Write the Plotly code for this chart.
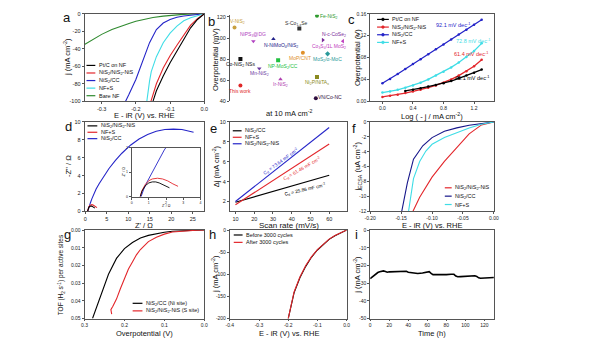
import plotly.graph_objects as go

W, H = 600, 353
FONT = "Liberation Sans, Arial, sans-serif"
AX = "#555555"

BLACK = "#000000"
RED = "#e3262b"
BLUE = "#2424c8"
NAVY = "#16168a"
CYAN = "#3fdde6"
GREEN = "#2f8a2f"

# ---------------- data ----------------
# (a) polarization curves
a_pt_E = [0.0, -0.02, -0.04, -0.06, -0.08, -0.10, -0.12, -0.14, -0.150]
a_pt_j = [0, -6.5, -16, -29, -42, -56, -71, -88, -100]
a_ni_E = [0.0, -0.02, -0.04, -0.06, -0.08, -0.10, -0.12, -0.14, -0.156]
a_ni_j = [0, -5.5, -13, -24, -36, -48, -62, -80, -100]
a_cc_E = [0.0, -0.03, -0.06, -0.08, -0.10, -0.12, -0.14, -0.16, -0.18, -0.20, -0.22, -0.230]
a_cc_j = [0, -1, -2.5, -4, -6.5, -10.5, -18, -33, -55, -75, -92, -100]
a_nf_E = [0.0, -0.02, -0.04, -0.06, -0.08, -0.10, -0.12, -0.14, -0.155, -0.16, -0.168]
a_nf_j = [0, -2, -4.5, -8, -14, -22, -33, -49, -66, -77, -100]
a_bare_E = [-0.35, -0.33, -0.30, -0.27, -0.25, -0.22, -0.20, -0.17, -0.15, -0.12, -0.10, -0.07, -0.05, -0.02, 0.0]
a_bare_j = [-35, -30, -23.5, -18, -15, -11, -8.5, -5.8, -4.3, -2.6, -1.7, -0.9, -0.5, -0.15, 0]
a_names = ["Pt/C on NF", "NiS<sub>2</sub>/NiS<sub>2</sub>-NiS", "NiS<sub>2</sub>/CC", "NF+S", "Bare NF"]

# (b) comparison of overpotentials at 10 mA cm-2
b_labels = ["V-NiS<sub>2</sub>", "NiPS<sub>3</sub>@DG", "N-NiMoO<sub>4</sub>/NiS<sub>2</sub>", "S-Co<sub>1-x</sub>Se",
            "Fe-NiS<sub>2</sub>", "N-c-CoSe<sub>2</sub>", "Co<sub>3</sub>S<sub>4</sub>/1L MoS<sub>2</sub>", "MoP/CNT",
            "MoS<sub>2</sub>/α-MoC", "NP-MoS<sub>2</sub>/CC", "Co-NiS<sub>2</sub> NSs", "Mn-NiS<sub>2</sub>",
            "Ir-NiS<sub>2</sub>", "Ni<sub>2</sub>P/NiTA<sub>x</sub>", "VN/Co-NC", "This work"]
b_index = [0.4, 2.0, 3.7, 5.9, 7.4, 7.9, 9.6, 6.2, 8.3, 4.1, 0.9, 2.5, 4.3, 7.4, 7.3, 0.9]
b_eta = [110, 97, 99, 109, 121, 98, 97, 86, 85, 79, 80, 71, 61, 63, 43, 55]

# (c) Tafel plots
c_x = [0.0, 0.1, 0.2, 0.3, 0.4, 0.5, 0.6, 0.7, 0.8, 0.9, 1.0, 1.1, 1.2, 1.3]
c_cc = [0.033, 0.041, 0.050, 0.059, 0.068, 0.077, 0.086, 0.095, 0.104, 0.113, 0.122, 0.131, 0.140, 0.149]
c_nf = [0.016, 0.018, 0.021, 0.025, 0.029, 0.034, 0.040, 0.047, 0.054, 0.062, 0.071, 0.081, 0.092, 0.106]
c_ni = [0.008, 0.010, 0.012, 0.015, 0.018, 0.021, 0.025, 0.029, 0.034, 0.040, 0.047, 0.055, 0.064, 0.076]
c_pt_x = [0.3, 0.4, 0.5, 0.6, 0.7, 0.8, 0.9, 1.0, 1.1, 1.2, 1.3]
c_pt = [0.019, 0.021, 0.024, 0.027, 0.030, 0.033, 0.037, 0.042, 0.047, 0.052, 0.058]
c_slopes = ["92.1 mV dec<sup>-1</sup>", "72.8 mV dec<sup>-1</sup>", "61.4 mV dec<sup>-1</sup>", "45.1 mV dec<sup>-1</sup>"]

# (d) Nyquist plots
d_cc_re = [0.55, 0.7, 0.9, 1.2, 1.5, 1.9, 2.5, 3.2, 4.2, 5.5, 7, 8.5, 10.5, 12.5, 14.5, 16.5, 18.5, 20.5, 22.5, 24, 25.2]
d_cc_im = [0, 0.3, 0.6, 1.0, 1.4, 1.9, 2.5, 3.1, 3.9, 4.8, 5.7, 6.5, 7.4, 8.1, 8.6, 8.95, 9.15, 9.2, 9.15, 9.0, 8.85]
d_nf_re = [0.5, 0.6, 0.8, 1.0, 1.2, 1.5, 1.8, 2.1, 2.4, 2.7]
d_nf_im = [0, 0.25, 0.5, 0.65, 0.72, 0.75, 0.72, 0.64, 0.52, 0.42]
d_ni_re = [0.5, 0.6, 0.8, 1.0, 1.2, 1.4, 1.6, 1.8, 2.0, 2.2]
d_ni_im = [0, 0.22, 0.45, 0.56, 0.6, 0.6, 0.56, 0.5, 0.42, 0.36]

# (e) double-layer capacitance
e_rate = [10, 20, 30, 40, 50, 60]
e_cc = [1.92, 2.46, 3.01, 3.55, 4.10, 4.64]
e_nf = [1.66, 2.88, 4.11, 5.33, 6.56, 7.78]
e_ni = [1.99, 3.48, 4.97, 6.46, 7.95, 9.44]
e_cdl = ["C<sub>d</sub> = 73.64 mF cm<sup>-2</sup>", "C<sub>d</sub> = 61.46 mF cm<sup>-2</sup>", "C<sub>d</sub> = 25.86 mF cm<sup>-2</sup>"]

# (f) ECSA-normalised polarization curves
f_ni_E = [0, -0.02, -0.04, -0.06, -0.08, -0.10, -0.11, -0.12, -0.131]
f_ni_j = [0, -0.4, -1.6, -3.4, -5.3, -7.4, -8.7, -10.1, -12]
f_cc_E = [0, -0.02, -0.04, -0.06, -0.08, -0.10, -0.115, -0.13, -0.14, -0.149]
f_cc_j = [0, -0.2, -0.45, -0.8, -1.25, -2.1, -3.2, -5.0, -8.2, -12]
f_nf_E = [0, -0.02, -0.04, -0.06, -0.08, -0.10, -0.11, -0.12, -0.13, -0.138]
f_nf_j = [0, -0.3, -0.8, -1.4, -2.1, -3.0, -3.9, -5.3, -7.6, -12]

# (g) TOF
g_cc_eta = [0.28, 0.26, 0.24, 0.22, 0.20, 0.18, 0.16, 0.14, 0.12, 0.10, 0.08, 0.06, 0.04, 0.02, 0.0]
g_cc_tof = [0.05, 0.037, 0.025, 0.016, 0.0105, 0.007, 0.0045, 0.003, 0.002, 0.0012, 0.0007, 0.0004, 0.0002, 0.0001, 0]
g_ni_eta = [0.232, 0.234, 0.229, 0.22, 0.21, 0.20, 0.19, 0.18, 0.17, 0.16, 0.14, 0.12, 0.10, 0.08, 0.05, 0.02, 0.0]
g_ni_tof = [0.0475, 0.045, 0.043, 0.039, 0.033, 0.027, 0.022, 0.018, 0.014, 0.011, 0.0065, 0.004, 0.0023, 0.0011, 0.0004, 0.0001, 0.0]

# (h) stability: LSV before / after cycling
h_E = [0, -0.02, -0.04, -0.06, -0.08, -0.10, -0.12, -0.14, -0.16, -0.18, -0.20]
h_before = [0, -6, -13, -21, -32, -45, -61, -82, -108, -142, -200]
h_after = [0, -5.5, -12.5, -20.5, -31.5, -44, -60, -80, -106, -140, -200]

# (i) chronoamperometry
i_t = [0, 2, 4, 6, 8, 10, 12, 14, 16, 18, 20, 25, 30, 35, 38, 40, 45, 50, 55, 60, 62, 64, 66, 70, 75, 80,
       85, 88, 90, 92, 95, 100, 105, 110, 112, 114, 116, 120, 125, 130]
i_j = [-27.5, -26.5, -25.5, -24.6, -24, -23.6, -23.3, -23.1, -23.4, -23.8, -23.6, -23.5, -23.4, -23.5, -23.3,
       -23.8, -24.3, -24.5, -24.3, -23.8, -23.5, -24.5, -25.2, -25.2, -25.3, -25.2, -25, -25, -26, -26.4,
       -26.3, -26.1, -26, -25.8, -26.2, -27, -27.2, -27.1, -27, -26.8]

# ---------------- figure ----------------
fig = go.Figure()


def X(px):
    return px / W


def Y(py):
    return 1 - py / H


def ids(n):
    return ("x" if n == 1 else f"x{n}"), ("y" if n == 1 else f"y{n}")


def add_axes(n, box, xr, yr, xt, xtt, yt, ytt, mirror=True, tick_size=5.5, xshow=True):
    l, t, r, b = box
    xid, yid = ids(n)
    base = dict(showgrid=False, zeroline=False, showline=True, linecolor=AX, linewidth=0.8,
                mirror=mirror, ticks="outside", ticklen=2, tickwidth=0.7, tickcolor=AX,
                tickfont=dict(size=tick_size, color="#222", family=FONT), fixedrange=True)
    xa = dict(base, domain=[X(l), X(r)], range=xr, anchor=yid, tickvals=xt, ticktext=xtt)
    if not xshow:
        xa.update(showticklabels=False, ticks="", showline=False)
    ya = dict(base, domain=[Y(b), Y(t)], range=yr, anchor=xid, tickvals=yt, ticktext=ytt)
    fig.update_layout(**{("xaxis" if n == 1 else f"xaxis{n}"): xa,
                         ("yaxis" if n == 1 else f"yaxis{n}"): ya})


def line(n, x, y, color, width=1.1, mode="lines", msize=2.5, symbol="circle"):
    xid, yid = ids(n)
    fig.add_trace(go.Scatter(x=x, y=y, xaxis=xid, yaxis=yid, mode=mode,
                             line=dict(color=color, width=width),
                             marker=dict(color=color, size=msize, symbol=symbol),
                             showlegend=False, hoverinfo="skip"))


annotations = []
shapes = []


def txt(px, py, s, size=6, color="#111", angle=0, xanchor="center", yanchor="middle"):
    annotations.append(dict(x=X(px), y=Y(py), xref="paper", yref="paper", text=s, showarrow=False,
                            font=dict(size=size, color=color, family=FONT), textangle=angle,
                            xanchor=xanchor, yanchor=yanchor))


def legend(px, py, items, dy=7.5, length=9, size=5.5, marker=False):
    for k, (label, color) in enumerate(items):
        yy = py + k * dy
        shapes.append(dict(type="line", xref="paper", yref="paper", x0=X(px), x1=X(px + length),
                           y0=Y(yy), y1=Y(yy), line=dict(color=color, width=1.2)))
        if marker:
            cx = px + length / 2
            shapes.append(dict(type="circle", xref="paper", yref="paper", x0=X(cx - 1.4), x1=X(cx + 1.4),
                               y0=Y(yy + 1.4), y1=Y(yy - 1.4), fillcolor=color, line=dict(color=color, width=0.5)))
        txt(px + length + 1.5, yy, label, size=size, xanchor="left")


ROW1_T, ROW2_T, ROW3_T = 114.5, 226.5, 336.5

# ----- (a) -----
add_axes(1, (80, 11, 202, 100), [-0.35, 0.0], [-100, 0], [-0.3, -0.2, -0.1, 0.0], ["-0.3", "-0.2", "-0.1", "0.0"],
         [0, -20, -40, -60, -80, -100], ["0", "-20", "-40", "-60", "-80", "-100"])
line(1, a_bare_E, a_bare_j, GREEN)
line(1, a_cc_E, a_cc_j, BLUE)
line(1, a_nf_E, a_nf_j, CYAN)
line(1, a_ni_E, a_ni_j, RED)
line(1, a_pt_E, a_pt_j, BLACK)
legend(82, 63.5, list(zip(a_names, [BLACK, RED, BLUE, CYAN, GREEN])), dy=7.7)
txt(141, ROW1_T, "E - iR (V) vs. RHE", size=7.5)
txt(62, 55, "j (mA cm<sup>-2</sup>)", size=7.5, angle=-90)
txt(62, 15, "a", size=13)

# ----- (b) -----
add_axes(2, (228, 12, 348, 100), [0, 10], [40, 122], [], [], [40, 60, 80, 100, 120],
         ["40", "60", "80", "100", "120"], mirror=False, xshow=False)
b_colors = ["#c9a040", "#b040c0", "#22228a", "#333333", "#2e9a2e", "#7a2a9a", "#c040c0", "#e0902a",
            "#2a9a9a", "#22c040", "#111111", "#6a3aa0", "#b040b0", "#8a8a20", "#301040", "#e02828"]
b_symbols = ["circle", "triangle-down", "triangle-up", "square", "circle", "triangle-right", "triangle-left",
             "circle", "diamond", "square", "square", "triangle-down", "triangle-up", "square", "circle", "circle"]
b_offsets = [(3, 6), (0, 7), (8, -6), (-3, 5), (12, -1), (11, 6), (-14, -5), (-3, -5),
             (0, -6), (5, -6), (0, -5), (0, -5), (0, -5), (0, -5), (14, 1), (0, -6)]
for k in range(len(b_labels)):
    fig.add_trace(go.Scatter(x=[b_index[k]], y=[b_eta[k]], xaxis="x2", yaxis="y2", mode="markers",
                             marker=dict(color=b_colors[k], size=4, symbol=b_symbols[k]),
                             showlegend=False, hoverinfo="skip"))
    dx, dy = b_offsets[k]
    annotations.append(dict(x=b_index[k], y=b_eta[k], xref="x2", yref="y2", text=b_labels[k],
                            showarrow=False, xshift=dx, yshift=dy,
                            font=dict(size=5, color=b_colors[k], family=FONT)))
txt(288, 112, "at 10 mA cm<sup>-2</sup>", size=7.5)
txt(213, 58, "Overpotential (mV)", size=7.5, angle=-90)
txt(209, 19, "b", size=13)

# ----- (c) -----
add_axes(3, (371, 11, 497, 100), [-0.16, 1.46], [0, 0.16], [0.0, 0.4, 0.8, 1.2], ["0.0", "0.4", "0.8", "1.2"],
         [0, 0.04, 0.08, 0.12, 0.16], ["0.00", "0.04", "0.08", "0.12", "0.16"], tick_size=5)
line(3, c_x, c_cc, BLUE, width=1.3, mode="lines+markers", msize=2.5)
line(3, c_x, c_nf, CYAN, width=1.3, mode="lines+markers", msize=2.5)
line(3, c_x, c_ni, RED, width=1.3, mode="lines+markers", msize=2.5)
line(3, c_pt_x, c_pt, BLACK, width=1.3, mode="lines+markers", msize=2.5)
legend(378, 16.7, list(zip(["Pt/C on NF", "NiS<sub>2</sub>/NiS<sub>2</sub>-NiS", "NiS<sub>2</sub>/CC", "NF+S"],
                           [BLACK, RED, BLUE, CYAN])), dy=7.8, length=12, marker=True)
txt(455, 22.7, c_slopes[0], size=5.5, color=BLUE)
txt(475.5, 38.3, c_slopes[1], size=5.5, color=CYAN)
txt(474, 51.7, c_slopes[2], size=5.5, color=RED)
txt(475, 76, c_slopes[3], size=5.5, color=BLACK)
txt(434, ROW1_T, "Log ( - j / mA cm<sup>-2</sup>)", size=7.5)
txt(357.5, 55, "Overpotential (V)", size=7.5, angle=-90)
txt(352, 17, "c", size=13)

# ----- (d) -----
add_axes(4, (80, 121, 202, 212), [-0.2, 27.7], [0, 10], [0, 5, 10, 15, 20, 25], ["0", "5", "10", "15", "20", "25"],
         [0, 2, 4, 6, 8, 10], ["0", "2", "4", "6", "8", "10"])
line(4, d_cc_re, d_cc_im, BLUE)
line(4, d_nf_re, d_nf_im, RED)
line(4, d_ni_re, d_ni_im, BLACK)
add_axes(5, (128, 147, 198, 197), [0, 4], [0, 2], [0, 1, 2, 3, 4], ["0", "1", "2", "3", "4"],
         [0, 1, 2], ["0", "1", "2"], tick_size=3.5)
line(5, d_cc_re, d_cc_im, BLUE, width=0.9)
line(5, d_nf_re, d_nf_im, RED, width=0.9)
line(5, d_ni_re, d_ni_im, BLACK, width=0.9)
txt(163, 206.5, "Z' / Ω", size=3.5)
txt(120.5, 172, "-Z'' / Ω", size=3.5, angle=-90)
legend(83, 125, list(zip(["NiS<sub>2</sub>/NiS<sub>2</sub>-NiS", "NF+S", "NiS<sub>2</sub>/CC"], [BLACK, RED, BLUE])),
       dy=6.5, length=10)
txt(141, ROW2_T, "Z' / Ω", size=7.5)
txt(63, 166, "-Z'' / Ω", size=7.5, angle=-90)
txt(64, 126, "d", size=13)

# ----- (e) -----
add_axes(6, (228, 121, 347, 212), [7, 69.3], [1, 10], [10, 20, 30, 40, 50, 60], ["10", "20", "30", "40", "50", "60"],
         [2, 4, 6, 8, 10], ["2", "4", "6", "8", "10"])
line(6, e_rate, e_cc, BLACK)
line(6, e_rate, e_nf, RED)
line(6, e_rate, e_ni, BLUE)
legend(231, 130, list(zip(["NiS<sub>2</sub>/CC", "NF+S", "NiS<sub>2</sub>/NiS<sub>2</sub>-NiS"], [BLACK, RED, BLUE])),
       dy=6.6, length=9)
txt(280, 161.5, e_cdl[0], size=4.8, color=BLUE, angle=-36)
txt(302, 168.5, e_cdl[1], size=4.8, color=RED, angle=-30)
txt(305, 189.5, e_cdl[2], size=4.8, color=BLACK, angle=-13)
txt(288, ROW2_T, "Scan rate (mV/s)", size=8)
txt(214, 166, "Δj (mA cm<sup>-2</sup>)", size=7.5, angle=-90)
txt(211, 128, "e", size=13)

# ----- (f) -----
add_axes(7, (371, 121, 497, 212), [-0.2, 0.0], [-12, 0], [-0.2, -0.15, -0.1, -0.05, 0.0],
         ["-0.20", "-0.15", "-0.10", "-0.05", "0.00"], [0, -2, -4, -6, -8, -10, -12],
         ["0", "-2", "-4", "-6", "-8", "-10", "-12"], tick_size=5)
line(7, f_ni_E, f_ni_j, RED)
line(7, f_cc_E, f_cc_j, NAVY)
line(7, f_nf_E, f_nf_j, CYAN)
legend(447, 188, list(zip(["NiS<sub>2</sub>/NiS<sub>2</sub>-NiS", "NiS<sub>2</sub>/CC", "NF+S"], [RED, NAVY, CYAN])),
       dy=8.5, length=7)
txt(434, ROW2_T, "E - iR (V) vs. RHE", size=7.5)
txt(358, 166, "j<sub>ECSA</sub> (uA cm<sup>-2</sup>)", size=7.5, angle=-90)
txt(354, 128, "f", size=13)

# ----- (g) -----
add_axes(8, (80, 231, 202, 321), [0.3, 0.0], [0.05, 0.0], [0.3, 0.2, 0.1, 0.0], ["0.3", "0.2", "0.1", "0.0"],
         [0, 0.01, 0.02, 0.03, 0.04, 0.05], ["0.00", "0.01", "0.02", "0.03", "0.04", "0.05"], tick_size=5)
line(8, g_cc_eta, g_cc_tof, BLACK)
line(8, g_ni_eta, g_ni_tof, RED)
legend(129, 305.5, list(zip(["NiS<sub>2</sub>/CC (Ni site)", "NiS<sub>2</sub>/NiS<sub>2</sub>-NiS (S site)"], [BLACK, RED])),
       dy=7.7, length=10)
txt(141, ROW3_T, "Overpotential (V)", size=7.5)
txt(56, 276, "TOF (H<sub>2</sub> s<sup>-1</sup>) per active sites", size=6.5, angle=-90)
txt(63, 236, "g", size=13)

# ----- (h) -----
add_axes(9, (228, 231, 347, 321), [-0.4, 0.0], [-200, 0], [-0.4, -0.3, -0.2, -0.1, 0.0],
         ["-0.4", "-0.3", "-0.2", "-0.1", "0.0"], [0, -50, -100, -150, -200], ["0", "-50", "-100", "-150", "-200"],
         tick_size=5)
line(9, h_E, h_before, BLACK)
line(9, h_E, h_after, RED)
legend(232, 236, list(zip(["Before 3000 cycles", "After 3000 cycles"], [BLACK, RED])), dy=7.5, length=9)
txt(288, ROW3_T, "E - iR (V) vs. RHE", size=7.5)
txt(213.5, 276, "j (mA cm<sup>-2</sup>)", size=7.5, angle=-90)
txt(210, 236, "h", size=13)

# ----- (i) -----
add_axes(10, (371, 231, 497, 321), [0, 130], [-50, 0], [0, 20, 40, 60, 80, 100, 120],
         ["0", "20", "40", "60", "80", "100", "120"], [0, -10, -20, -30, -40, -50],
         ["0", "-10", "-20", "-30", "-40", "-50"], tick_size=5)
line(10, i_t, i_j, BLACK, width=1.6)
txt(434, ROW3_T, "Time (h)", size=7.5)
txt(358, 276, "j (mA cm<sup>-2</sup>)", size=7.5, angle=-90)
txt(357, 236, "i", size=13)

fig.update_layout(width=W, height=H, margin=dict(l=0, r=0, t=0, b=0), paper_bgcolor="white",
                  plot_bgcolor="white", showlegend=False, annotations=annotations, shapes=shapes,
                  font=dict(family=FONT, color="#111"))
fig.write_html("out.html")
